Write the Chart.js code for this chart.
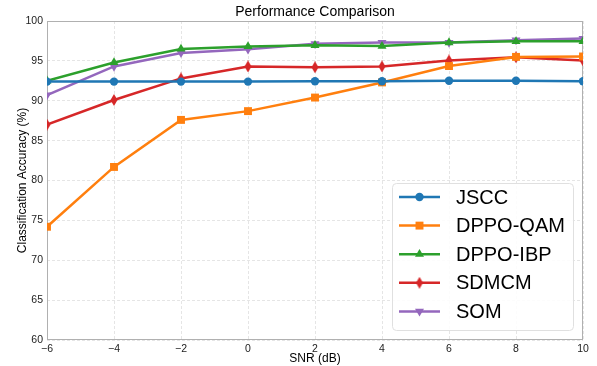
<!DOCTYPE html>
<html>
<head>
<meta charset="utf-8">
<script src="https://cdn.jsdelivr.net/npm/chart.js@4/dist/chart.umd.min.js"></script>
<style>
  html, body { margin: 0; padding: 0; background: #fff; }
  #wrap { width: 597px; height: 366px; }
</style>
</head>
<body>
<div id="wrap"><canvas id="myChart"></canvas></div>
<script>
// data
let snr = [-6, -4, -2, 0, 2, 4, 6, 8, 10];
let jscc    = [92.4, 92.4, 92.4, 92.4, 92.45, 92.45, 92.5, 92.5, 92.45];
let dppoQam = [74.2, 81.7, 87.6, 88.7, 90.4, 92.3, 94.35, 95.5, 95.55];
let dppoIbp = [92.5, 94.8, 96.5, 96.8, 96.95, 96.85, 97.3, 97.45, 97.45];
let sdmcm   = [87.0, 90.1, 92.8, 94.3, 94.2, 94.3, 95.05, 95.45, 95.05];
let som     = [90.7, 94.3, 96.0, 96.45, 97.15, 97.3, 97.3, 97.6, 97.8];
let yTicks  = [60, 65, 70, 75, 80, 85, 90, 95, 100];

const FONT = "'Liberation Sans', Arial, sans-serif";

// matplotlib style thin diamond marker
function thinDiamond(color) {
    let c = document.createElement('canvas');
    c.width = 8; c.height = 12;
    let g = c.getContext('2d');
    g.fillStyle = color;
    g.beginPath();
    g.moveTo(4, 0); g.lineTo(7.5, 6); g.lineTo(4, 12); g.lineTo(0.5, 6);
    g.closePath();
    g.fill();
    return c;
}

function toPts(arr) {
    return snr.map((x, i) => ({x: x, y: arr[i]}));
}

function series(label, arr, color, style, size, rot) {
    return {
        label: label,
        data: toPts(arr),
        borderColor: color,
        backgroundColor: color,
        borderWidth: 2.5,
        pointStyle: style,
        pointRadius: size,
        pointRotation: rot || 0,
        pointBorderWidth: 0,
        pointHoverRadius: size,
        tension: 0
    };
}

let datasets = [
    series('JSCC', jscc, '#1f77b4', 'circle', 4.2),
    series('DPPO-QAM', dppoQam, '#ff7f0e', 'rect', 5.6),
    series('DPPO-IBP', dppoIbp, '#2ca02c', 'triangle', 5.2),
    series('SDMCM', sdmcm, '#d62728', thinDiamond('#d62728'), 5),
    series('SOM', som, '#9467bd', 'triangle', 5.2, 180)
];

// frame around plot area, title and legend box inside the plot
const extras = {
    id: 'extras',
    beforeDatasetsDraw(chart) {
        let a = chart.chartArea, c = chart.ctx;
        c.save();
        c.strokeStyle = '#b0b0b0';
        c.lineWidth = 1;
        c.strokeRect(a.left + 0.5, a.top + 0.5, a.right - a.left - 1, a.bottom - a.top - 1);
        c.restore();
    },
    afterDraw(chart) {
        let a = chart.chartArea, c = chart.ctx;
        c.save();
        c.fillStyle = '#000';
        c.font = '14px ' + FONT;
        c.textAlign = 'center';
        c.textBaseline = 'bottom';
        c.fillText('Performance Comparison', (a.left + a.right) / 2, a.top - 2);

        // legend
        let bx = a.right - 191, by = a.bottom - 157, bw = 181, bh = 147;
        c.fillStyle = 'rgba(255,255,255,0.85)';
        c.strokeStyle = '#e0e0e0';
        c.lineWidth = 1;
        c.beginPath();
        c.roundRect(bx + 0.5, by + 0.5, bw, bh, 4);
        c.fill();
        c.stroke();
        c.font = '20px ' + FONT;
        c.textAlign = 'left';
        c.textBaseline = 'middle';
        chart.data.datasets.forEach((ds, i) => {
            let y = by + 14 + i * 28.6;
            c.strokeStyle = ds.borderColor;
            c.lineWidth = 2.5;
            c.beginPath();
            c.moveTo(bx + 7, y);
            c.lineTo(bx + 48, y);
            c.stroke();
            c.fillStyle = ds.backgroundColor;
            Chart.helpers.drawPoint(c, {
                pointStyle: ds.pointStyle,
                radius: ds.pointRadius,
                rotation: ds.pointRotation,
                borderWidth: 0
            }, bx + 27.5, y);
            c.fillStyle = '#000';
            c.fillText(ds.label, bx + 64, y + 1);
        });
        c.restore();
    }
};

let ctx = document.getElementById('myChart').getContext('2d');
let chart = new Chart(ctx, {
    type: 'line',
    data: { datasets: datasets },
    options: {
        responsive: true,
        maintainAspectRatio: false,
        animation: false,
        layout: {
            padding: { left: 0, right: 14, top: 21, bottom: 0 }
        },
        plugins: {
            legend: { display: false },
            title: { display: false },
            tooltip: { enabled: false }
        },
        scales: {
            x: {
                type: 'linear',
                min: -6,
                max: 10,
                afterFit: s => { s.height = 26; },
                border: { display: false, dash: [3, 2] },
                grid: {
                    color: 'rgba(0,0,0,0.1)',
                    lineWidth: 1,
                    drawTicks: false
                },
                ticks: {
                    stepSize: 2,
                    padding: 3,
                    color: '#222',
                    font: { family: FONT, size: 10.5 },
                    callback: v => String(v).replace('-', '\u2212')
                },
                title: {
                    display: true,
                    text: 'SNR (dB)',
                    color: '#000',
                    padding: { top: 0, bottom: 0 },
                    font: { family: FONT, size: 12 }
                }
            },
            y: {
                min: 60,
                max: 100,
                afterFit: s => { s.width = 47; },
                afterBuildTicks: s => { s.ticks = yTicks.map(v => ({value: v})); },
                border: { display: false, dash: [3, 2] },
                grid: {
                    color: 'rgba(0,0,0,0.1)',
                    lineWidth: 1,
                    drawTicks: false
                },
                ticks: {
                    padding: 4,
                    color: '#222',
                    font: { family: FONT, size: 10.5 }
                },
                title: {
                    display: true,
                    text: 'Classification Accuracy (%)',
                    color: '#000',
                    padding: { top: 15, bottom: 0 },
                    font: { family: FONT, size: 12 }
                }
            }
        }
    },
    plugins: [extras]
});
</script>
</body>
</html>
